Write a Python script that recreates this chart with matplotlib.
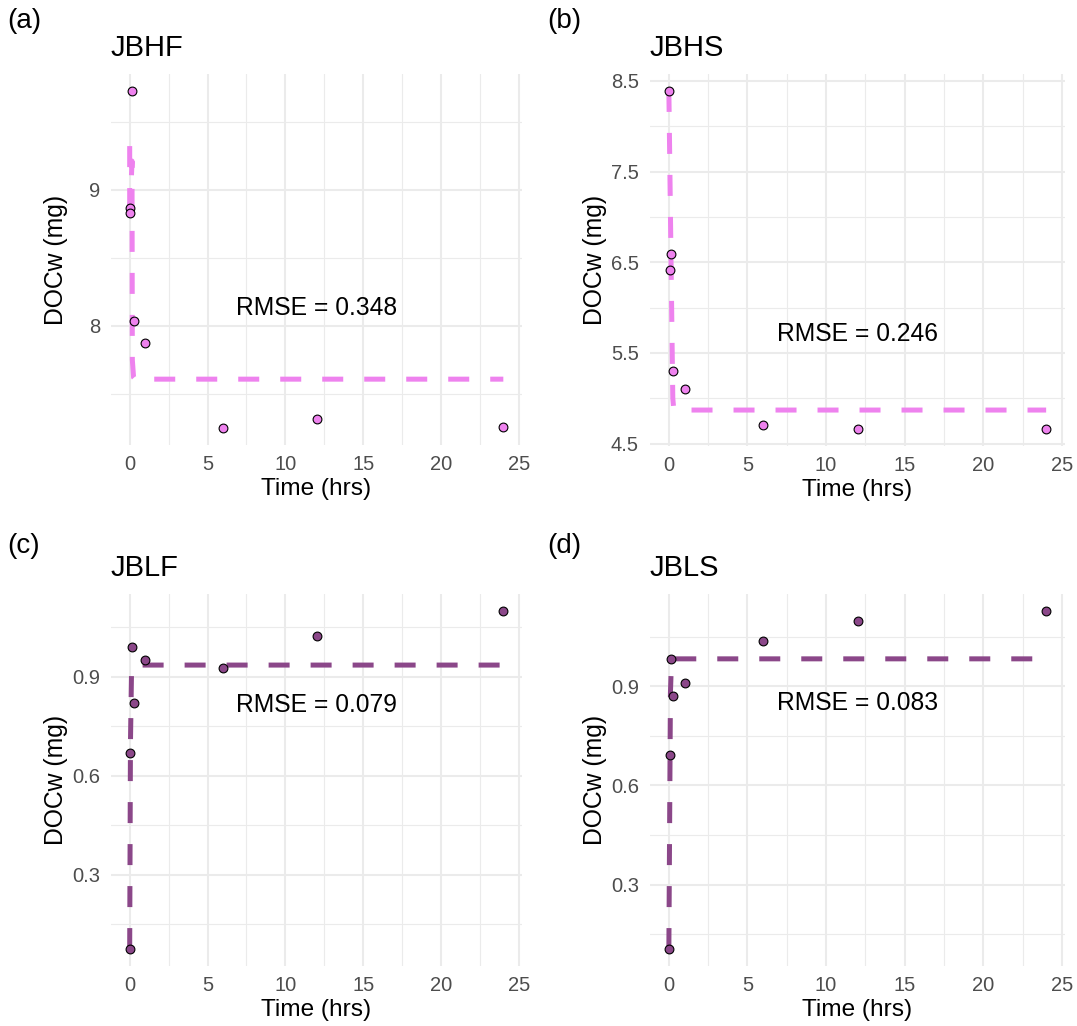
import matplotlib
matplotlib.use("Agg")
import matplotlib.pyplot as plt

plt.rcParams.update({
    'font.family': ['Liberation Sans', 'DejaVu Sans'],
    'axes.unicode_minus': False,
})

# ── Data ──────────────────────────────────────────────────────────────────
times = [0, 0.05, 0.167, 0.25, 1, 6, 12, 24]

docw_jbhf = [8.868, 8.829, 9.726, 8.037, 7.871, 7.247, 7.316, 7.255]
docw_jbhs = [8.386, 6.42, 6.59, 5.30, 5.10, 4.70, 4.66, 4.66]
docw_jblf = [0.075, 0.670, 0.989, 0.819, 0.950, 0.927, 1.023, 1.099]
docw_jbls = [0.105, 0.692, 0.983, 0.870, 0.909, 1.036, 1.098, 1.128]

# fitted curves
fit_t_jbhf = [0, 0, 0.15, 0.17, 0.25, 0.35, 24]
fit_jbhf = [9.32, 8.75, 9.21, 7.75, 7.62, 7.607, 7.607]
fit_t_jbhs = [0, 0.25, 0.3, 0.4, 24]
fit_jbhs = [8.39, 5.0, 4.9, 4.87, 4.87]
fit_t_jblf = [0, 0.05, 0.12, 0.2, 24]
fit_jblf = [0.075, 0.70, 0.92, 0.935, 0.935]
fit_t_jbls = [0, 0.1, 0.17, 24]
fit_jbls = [0.105, 0.88, 0.983, 0.983]

rmse_labels = ["RMSE = 0.348", "RMSE = 0.246", "RMSE = 0.079", "RMSE = 0.083"]
rmse_y = [8.13, 5.71, 0.814, 0.848]
rmse_x = 12

titles = ["JBHF", "JBHS", "JBLF", "JBLS"]
tags = ["(a)", "(b)", "(c)", "(d)"]

xticks = [0, 5, 10, 15, 20, 25]
xminor = [2.5, 7.5, 12.5, 17.5, 22.5]
yticks_list = [[8, 9], [4.5, 5.5, 6.5, 7.5, 8.5], [0.3, 0.6, 0.9], [0.3, 0.6, 0.9]]
yminor_list = [[7.5, 8.5, 9.5], [5, 6, 7, 8], [0.15, 0.45, 0.75, 1.05], [0.15, 0.45, 0.75, 1.05]]

VIOLET = '#EE82EE'
PURPLE = '#8B4789'
colors = [VIOLET, VIOLET, PURPLE, PURPLE]

series = [(docw_jbhf, fit_t_jbhf, fit_jbhf),
          (docw_jbhs, fit_t_jbhs, fit_jbhs),
          (docw_jblf, fit_t_jblf, fit_jblf),
          (docw_jbls, fit_t_jbls, fit_jbls)]

W, H = 1077, 1026
fig = plt.figure(figsize=(W / 100, H / 100), dpi=100)

# axes boxes in pixels: left, top, right, bottom
boxes = [(111, 74, 522, 445), (650, 74, 1065, 446),
         (111, 594, 522, 966), (650, 594, 1065, 966)]
tag_pos = [(7, 8), (547, 8), (7, 533), (547, 533)]

for i, (obs, ft, fy) in enumerate(series):
    l, t, r, b = boxes[i]
    ax = fig.add_axes([l / W, 1 - b / H, (r - l) / W, (b - t) / H])

    line, = ax.plot(ft, fy, color=colors[i], linewidth=3.6, zorder=2,
                    solid_capstyle='butt', dash_capstyle='butt')
    line.set_dashes((4.2, 4.2))
    ax.scatter(times, obs, s=40, facecolor=colors[i], edgecolor='black',
               linewidth=0.8, zorder=3)

    ax.text(rmse_x, rmse_y[i], rmse_labels[i], ha='center', va='center',
            fontsize=17.7, color='black')

    ax.set_xticks(xticks)
    ax.set_xticks(xminor, minor=True)
    ax.set_yticks(yticks_list[i])
    ax.set_yticks(yminor_list[i], minor=True)
    ax.set_yticklabels([f"{v:g}" for v in yticks_list[i]])
    ax.set_xlim(-1.2, 25.2)

    ax.grid(True, which='major', color='#EBEBEB', linewidth=1.5)
    ax.grid(True, which='minor', color='#EBEBEB', linewidth=0.8)
    ax.set_axisbelow(True)
    for s in ax.spines.values():
        s.set_visible(False)
    ax.tick_params(which='both', length=0, labelsize=14.5, labelcolor='#4D4D4D')
    ax.tick_params(axis='y', pad=8)
    ax.tick_params(axis='x', pad=7)

    ax.set_xlabel("Time (hrs)", fontsize=17.6)
    ax.set_ylabel("DOCw (mg)", fontsize=17.8)
    ax.xaxis.set_label_coords(0.5, -0.088)
    ax.yaxis.set_label_coords(-0.104, 0.5)
    ax.set_title(titles[i], loc='left', fontsize=21, pad=13)

    fig.text(tag_pos[i][0] / W, 1 - tag_pos[i][1] / H, tags[i],
             ha='left', va='top', fontsize=20)

fig.savefig("out.png", dpi=100)
